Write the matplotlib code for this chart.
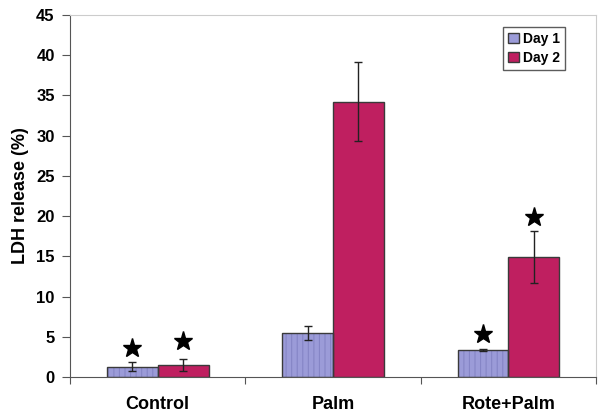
import numpy as np
import matplotlib
matplotlib.use("Agg")
import matplotlib.pyplot as plt
from matplotlib.patches import Patch

plt.rcParams["font.family"] = ["Liberation Sans", "DejaVu Sans"]

# data
groups = ["Control", "Palm", "Rote+Palm"]
day1 = [1.3, 5.5, 3.35]
day1_err = [0.6, 0.9, 0.1]
day2 = [1.5, 34.2, 14.9]
day2_err = [0.8, 4.9, 3.2]
star_day1 = [3.6, None, 5.35]
star_day2 = [4.5, None, 19.9]

c1 = "#9b9bd8"
c2 = "#bf1f60"
edge = "#3a3a3a"

fig = plt.figure(figsize=(6.04, 4.17), dpi=100)
ax = fig.add_axes([0.1159, 0.0959, 0.8709, 0.8681])

x = np.arange(len(groups))
w = 0.29

plt.rcParams["hatch.color"] = "#8585c6"
plt.rcParams["hatch.linewidth"] = 0.8
ax.bar(x - w / 2, day1, w, color=c1, edgecolor="#8585c6", linewidth=0, hatch="|||", zorder=2)
ax.bar(x - w / 2, day1, w, color="none", edgecolor=edge, linewidth=1, zorder=3)
ax.bar(x + w / 2, day2, w, color=c2, edgecolor=edge, linewidth=1, zorder=2)

ax.errorbar(x - w / 2, day1, yerr=day1_err, fmt="none", ecolor="#222222", elinewidth=1, capsize=3, zorder=4)
ax.errorbar(x + w / 2, day2, yerr=day2_err, fmt="none", ecolor="#222222", elinewidth=1, capsize=3, zorder=4)

for i in range(len(groups)):
    if star_day1[i] is not None:
        ax.plot(x[i] - w / 2, star_day1[i], marker="*", color="black", markersize=14, zorder=5)
    if star_day2[i] is not None:
        ax.plot(x[i] + w / 2, star_day2[i], marker="*", color="black", markersize=14, zorder=5)

ax.set_xlim(-0.5, len(groups) - 0.5)
ax.set_ylim(0, 45)
ax.set_yticks(np.arange(0, 46, 5))
ax.set_xticks(np.arange(-0.5, len(groups), 1.0))
ax.set_xticklabels([])
ax.set_xticks(x, minor=True)
ax.set_xticklabels(groups, minor=True, fontsize=13, fontweight="bold")
ax.tick_params(axis="x", which="minor", length=0, pad=14)
ax.tick_params(axis="x", which="major", length=5, direction="out", color="#555555")
ax.tick_params(axis="y", length=6, direction="out", color="#555555", labelsize=12, pad=5)
for lab in ax.get_yticklabels():
    lab.set_fontweight("bold")

ax.spines["left"].set_color("#555555")
ax.spines["bottom"].set_color("#555555")
ax.spines["top"].set_color("#cccccc")
ax.spines["right"].set_color("#cccccc")

ax.set_ylabel("LDH release (%)", fontsize=13, fontweight="bold", labelpad=5)

handles = [Patch(facecolor=c1, edgecolor=edge, linewidth=1), Patch(facecolor=c2, edgecolor=edge, linewidth=1)]
leg = ax.legend(handles, ["Day 1", "Day 2"], loc="upper left", bbox_to_anchor=(0.823, 0.967),
                fontsize=10, frameon=True, fancybox=False, edgecolor="#333333",
                handlelength=0.8, handleheight=0.8, handletextpad=0.3, borderpad=0.35,
                labelspacing=0.35, borderaxespad=0)
leg.get_frame().set_linewidth(1)
for t in leg.get_texts():
    t.set_fontweight("bold")

fig.savefig("out.png", dpi=100)
